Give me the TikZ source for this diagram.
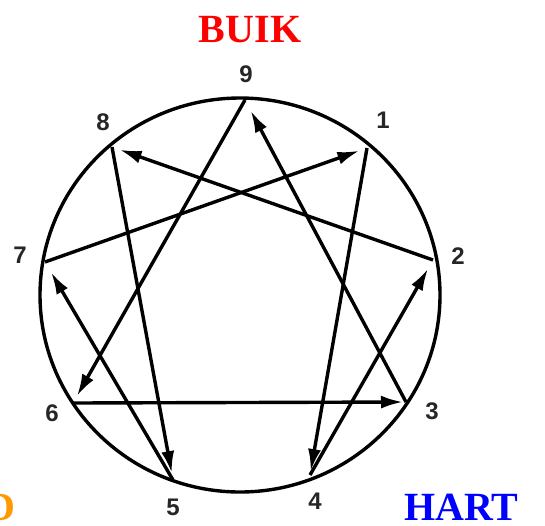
\documentclass[tikz,border=0pt]{standalone}
\usepackage{fontspec}
\setmainfont{Liberation Serif}
\newfontfamily\digitfont{Liberation Sans}
\usetikzlibrary{arrows.meta}
\definecolor{buikred}{RGB}{255,0,0}
\definecolor{hartblue}{RGB}{0,0,255}
\definecolor{hoofdorange}{RGB}{255,153,0}
\begin{document}
\begin{tikzpicture}[x=1pt,y=-1pt,
  edge/.style={line width=3.4pt, -{Latex[length=22pt,width=13pt]}, shorten >=6pt},
  num/.style={font=\digitfont\bfseries\fontsize{24}{24}\selectfont, inner sep=0pt, text=black!85},
  title/.style={font=\bfseries\fontsize{40}{40}\selectfont, inner sep=0pt}]
\useasboundingbox (0,0) rectangle (545,525);
% points on the circle
\coordinate (p9) at (245,100);
\coordinate (p1) at (367,148);
\coordinate (p2) at (433,260);
\coordinate (p3) at (406,402);
\coordinate (p4) at (310,475);
\coordinate (p5) at (173,480);
\coordinate (p6) at (73,403);
\coordinate (p7) at (45,262);
\coordinate (p8) at (112,147);
% circle
\draw[line width=3.4pt] (240,295) ellipse [x radius=200pt, y radius=197pt];
% triangle
\draw[edge, shorten >=8pt] (p9) -- (p6);
\draw[edge, shorten >=3pt] (p6) -- (p3);
\draw[edge, shorten >=12pt] (p3) -- (p9);
% hexad
\draw[edge, shorten >=4pt] (p1) -- (p4);
\draw[edge, shorten >=10pt] (p4) -- (p2);
\draw[edge, shorten >=8pt] (p2) -- (p8);
\draw[edge, shorten >=7pt] (p8) -- (p5);
\draw[edge, shorten >=12pt] (p5) -- (p7);
\draw[edge, shorten >=8pt] (p7) -- (p1);
% number labels
\node[num] (n9) at (246,74) {9};
\node[num] (n8) at (103,122) {8};
\node[num] (n1) at (383,120) {1};
\node[num] (n7) at (20,255) {7};
\node[num] (n2) at (458,256) {2};
\node[num] (n6) at (52,413) {6};
\node[num] (n3) at (432,411) {3};
\node[num] (n4) at (315,501) {4};
\begin{scope}
\clip (150,490) rectangle (200,515);
\node[num] (n5) at (173,507) {5};
\end{scope}
% titles
\node[title, text=buikred, anchor=base] (buik) at (250,42) {BUIK};
\node[title, text=hartblue, anchor=base west] (hart) at (404,520) {HART};
\node[title, text=hoofdorange, anchor=base east] (hoofd) at (16,520) {D};
\end{tikzpicture}
\end{document}
